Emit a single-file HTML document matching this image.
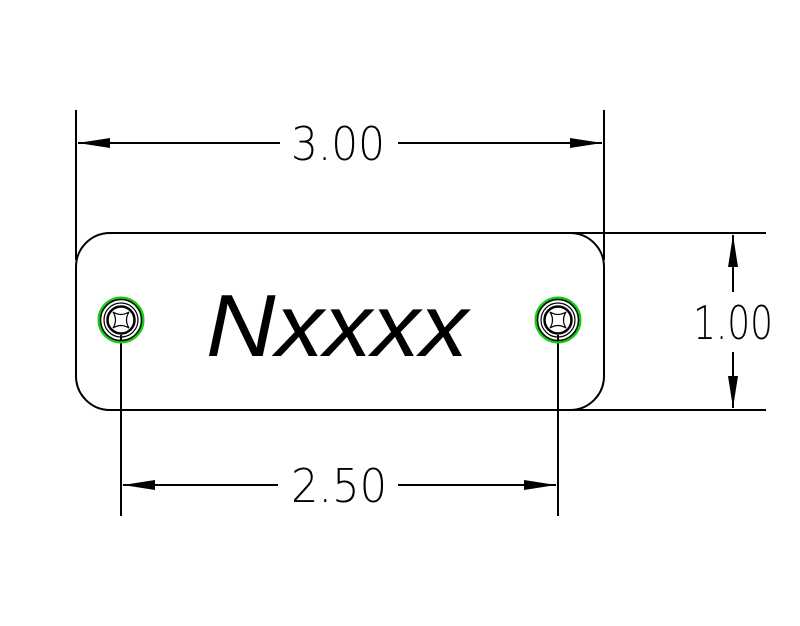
<!DOCTYPE html>
<html><head><style>body{margin:0;background:#fff}svg{display:block}</style></head><body>
<svg width="800" height="626" viewBox="0 0 800 626" xmlns="http://www.w3.org/2000/svg">
<g stroke="#000" stroke-width="2" fill="none">
<rect x="76" y="233" width="528" height="177" rx="34" ry="34"/>
<line x1="76" y1="110" x2="76" y2="260"/>
<line x1="604" y1="110" x2="604" y2="260"/>
<line x1="78" y1="143" x2="280" y2="143"/>
<line x1="398" y1="143" x2="602" y2="143"/>
<line x1="570" y1="233" x2="766" y2="233"/>
<line x1="570" y1="410" x2="766" y2="410"/>
<line x1="733" y1="235" x2="733" y2="292"/>
<line x1="733" y1="352" x2="733" y2="408"/>
<line x1="121" y1="335" x2="121" y2="516"/>
<line x1="558" y1="335" x2="558" y2="516"/>
<line x1="123" y1="485" x2="278" y2="485"/>
<line x1="398" y1="485" x2="556" y2="485"/>
</g>
<g fill="#000">
<polygon points="78,143 110,138 110,148"/>
<polygon points="602,143 570,138 570,148"/>
<polygon points="733,235 728,267 738,267"/>
<polygon points="733,408 728,376 738,376"/>
<polygon points="123,485 155,480 155,490"/>
<polygon points="556,485 524,480 524,490"/>
</g>
<g font-family="'DejaVu Sans','Liberation Sans',sans-serif" font-weight="200" fill="#000" font-size="46" text-anchor="middle">
<text x="338" y="160" textLength="94" lengthAdjust="spacingAndGlyphs">3.00</text>
<text x="733" y="339" textLength="80" lengthAdjust="spacingAndGlyphs">1.00</text>
<text x="339" y="502" textLength="96" lengthAdjust="spacingAndGlyphs">2.50</text>
</g>
<text x="337" y="356" font-family="'Liberation Sans',sans-serif" font-style="italic" font-size="88" text-anchor="middle" textLength="262" lengthAdjust="spacingAndGlyphs">Nxxxx</text>
<g transform="translate(121,320)">
<circle r="22" fill="none" stroke="#1c1" stroke-width="3"/>
<circle r="20.5" fill="none" stroke="#000" stroke-width="1.5"/>
<circle r="17" fill="none" stroke="#000" stroke-width="1.2"/>
<circle r="13.5" fill="none" stroke="#000" stroke-width="2.5"/>
<path d="M-8,-8 Q0,-3 8,-8 Q3,0 8,8 Q0,3 -8,8 Q-3,0 -8,-8Z" fill="none" stroke="#000" stroke-width="1.2"/>
</g>
<g transform="translate(558,320)">
<circle r="22" fill="none" stroke="#1c1" stroke-width="3"/>
<circle r="20.5" fill="none" stroke="#000" stroke-width="1.5"/>
<circle r="17" fill="none" stroke="#000" stroke-width="1.2"/>
<circle r="13.5" fill="none" stroke="#000" stroke-width="2.5"/>
<path d="M-8,-8 Q0,-3 8,-8 Q3,0 8,8 Q0,3 -8,8 Q-3,0 -8,-8Z" fill="none" stroke="#000" stroke-width="1.2"/>
</g>
</svg>
</body></html>
